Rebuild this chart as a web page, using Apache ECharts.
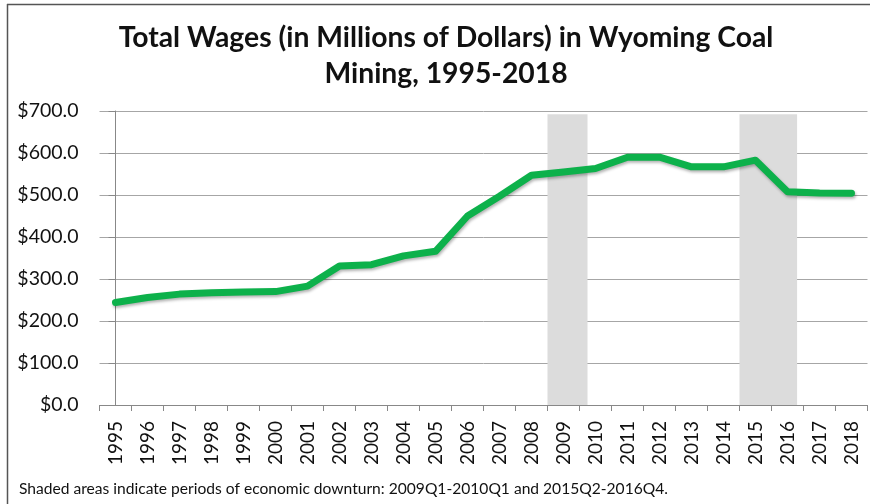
<!DOCTYPE html>
<html>
<head>
<meta charset="utf-8">
<script src="https://cdn.jsdelivr.net/npm/echarts@6/dist/echarts.min.js"></script>
<style>
  html, body { margin: 0; padding: 0; background: #fff; }
  #chart { width: 870px; height: 504px; }
</style>
</head>
<body>
<div id="chart"></div>
<script>
var years = ['1995', '1996', '1997', '1998', '1999', '2000', '2001', '2002', '2003', '2004', '2005', '2006',
  '2007', '2008', '2009', '2010', '2011', '2012', '2013', '2014', '2015', '2016', '2017', '2018'];
var wages = [244, 256, 264, 267, 269, 270, 283, 331, 334, 355, 366, 450,
  497, 547, 555, 563, 590, 590, 567, 567, 583, 508, 505, 504];
// downturn periods in category-index units (band edges at i - 0.5)
var downturns = [[13.5, 14.75], [19.5, 21.3]];
var shadeTop = 692;

(function() {
  var green = '#0db14b';
  var grid = '#a6a6a6';
  var ink = '#111';
  var font = 'Lato';

  var chart = echarts.init(document.getElementById('chart'), null, { renderer: 'canvas' });
  chart.setOption({
    animation: false,
    backgroundColor: '#fff',
    title: {
      text: 'Total Wages (in Millions of Dollars) in Wyoming Coal\nMining, 1995-2018',
      left: 441,
      textAlign: 'center',
      top: 15,
      textStyle: { fontFamily: font, fontWeight: 'bold', fontSize: 28.3, lineHeight: 36, color: ink }
    },
    graphic: [
      { type: 'line', shape: { x1: 7, y1: 4.5, x2: 870, y2: 4.5 }, style: { stroke: '#555', lineWidth: 1.5 } },
      { type: 'line', shape: { x1: 7.5, y1: 4, x2: 7.5, y2: 504 }, style: { stroke: '#555', lineWidth: 1.5 } },
      {
        type: 'text', left: 19, top: 481,
        style: {
          text: 'Shaded areas indicate periods of economic downturn: 2009Q1-2010Q1 and 2015Q2-2016Q4.',
          fontFamily: font, fontSize: 15.6, fill: ink
        }
      }
    ],
    grid: { left: 99.5, right: 2.5, top: 111, bottom: 99 },
    xAxis: [
      {
        type: 'category',
        data: years,
        boundaryGap: true,
        axisLine: { lineStyle: { color: '#888', width: 1 } },
        axisTick: { show: true, length: 6, lineStyle: { color: '#888' } },
        axisLabel: { rotate: 90, margin: 16, color: ink, fontFamily: font, fontSize: 19 }
      },
      {
        type: 'value', min: -0.5, max: years.length - 0.5, show: false
      }
    ],
    yAxis: {
      type: 'value',
      min: 0, max: 700, interval: 100,
      axisLine: { show: true, lineStyle: { color: '#888' } },
      axisTick: { show: true, length: 7, lineStyle: { color: '#888' } },
      splitLine: { lineStyle: { color: grid, width: 1 } },
      axisLabel: {
        margin: 21, color: ink, fontFamily: font, fontSize: 19.5,
        formatter: function(v) { return '$' + v.toFixed(1); }
      }
    },
    series: [
      {
        type: 'line',
        xAxisIndex: 1,
        data: [],
        silent: true,
        markArea: {
          silent: true,
          itemStyle: { color: '#dcdcdc' },
          data: downturns.map(function(d) {
            return [{ xAxis: d[0], yAxis: 0 }, { xAxis: d[1], yAxis: shadeTop }];
          })
        }
      },
      {
        type: 'line',
        data: wages,
        showSymbol: false,
        symbol: 'none',
        z: 5,
        lineStyle: {
          color: green, width: 7, cap: 'round', join: 'round',
          shadowColor: 'rgba(0,0,0,0.3)', shadowBlur: 3, shadowOffsetY: 2, shadowOffsetX: 1
        }
      }
    ]
  });
})();
</script>
</body>
</html>
